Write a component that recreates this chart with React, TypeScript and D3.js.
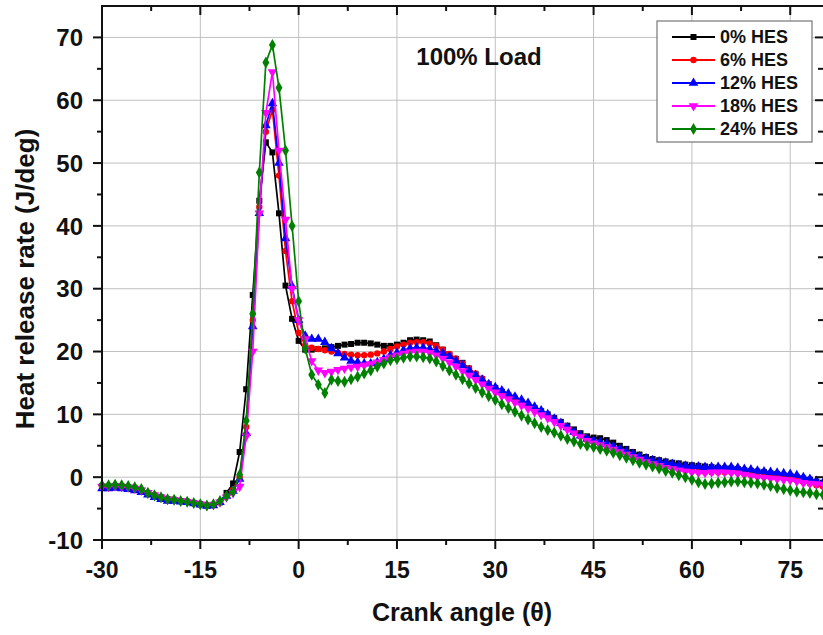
import React from "react";
import * as d3 from "d3";

// Crank angle sampling (degrees), one sample per degree from -30 to 80
const ANGLE_START = -30;
const ANGLE_STEP = 1;

const seriesNames = ["0% HES", "6% HES", "12% HES", "18% HES", "24% HES"];
const seriesColors = ["#000000", "#ff0000", "#0000ff", "#ff00ff", "#008000"];

const hes0 = [
  -1.5, -1.5, -1.4, -1.5, -1.6, -1.8, -2.1, -2.5, -2.9, -3.2, -3.5, -3.6, -3.8, -3.9, -4.1, -4.3, -4.5, -4.4, -4.0, -2.5, -1.0,
  4, 14, 29, 44, 53.3, 51.7, 42, 30.5, 25.2,
  21.7, 20.3, 20.3, 20.4, 20.5, 20.7, 20.9, 21.1, 21.2, 21.4, 21.4, 21.3, 21.1, 20.9, 20.9, 21.1, 21.4, 21.8, 21.9, 21.8,
  21.6, 21.0, 20.3, 19.5, 18.8, 18.2, 17.3, 16.4, 15.6, 14.8,
  14.2, 13.6, 13.0, 12.5, 12.0, 11.5, 11.0, 10.5, 10.0, 9.4,
  8.8, 8.2, 7.6, 7.0, 6.5, 6.3, 6.2, 5.9, 5.5, 5.0,
  4.5, 4.0, 3.6, 3.2, 2.9, 2.7, 2.5, 2.3, 2.2, 2.0,
  1.9, 1.8, 1.7, 1.6, 1.5, 1.4, 1.4, 1.3, 1.1, 1.0,
  0.9, 0.8, 0.6, 0.5, 0.3, 0.2, 0.0, -0.2, -0.4, -0.7,
  -0.9,
];

const hes6 = [
  -1.5, -1.5, -1.4, -1.5, -1.6, -1.8, -2.1, -2.5, -2.9, -3.2, -3.5, -3.6, -3.8, -3.9, -4.1, -4.3, -4.5, -4.4, -4.0, -3.0, -2.0,
  0, 8, 25, 43, 55, 58.5, 48, 36, 28,
  23, 21, 20.6, 20.4, 20.2, 20.0, 19.8, 19.6, 19.5, 19.4, 19.4, 19.5, 19.7, 20.0, 20.4, 20.8, 21.1, 21.4, 21.5, 21.5,
  21.3, 20.9, 20.3, 19.6, 18.9, 18.1, 17.3, 16.5, 15.7, 14.9,
  14.2, 13.5, 12.9, 12.3, 11.8, 11.3, 10.8, 10.3, 9.8, 9.2,
  8.5, 7.8, 7.1, 6.5, 5.9, 5.5, 5.2, 4.9, 4.6, 4.2,
  3.8, 3.4, 3.0, 2.6, 2.3, 2.0, 1.7, 1.5, 1.3, 1.1,
  1.0, 0.9, 0.8, 0.8, 0.8, 0.8, 0.8, 0.7, 0.5, 0.3,
  0.2, 0.1, 0.0, -0.1, -0.2, -0.3, -0.5, -0.8, -1.0, -1.3,
  -1.5,
];

const hes12 = [
  -1.8, -1.8, -1.7, -1.8, -1.9, -2.1, -2.4, -2.8, -3.2, -3.5, -3.8, -3.8, -3.9, -4.0, -4.2, -4.4, -4.6, -4.5, -4.0, -3.0, -2.2,
  -0.3, 7, 24, 42, 56, 59.5, 50, 38, 30.4,
  25, 22.5, 22.0, 22.0, 21.5, 20.5, 19.7, 19.0, 18.5, 18.3, 18.1, 18.1, 18.3, 18.8, 19.4, 19.8, 20.2, 20.5, 20.6, 20.6,
  20.4, 20.1, 19.7, 19.2, 18.5, 17.8, 17.0, 16.2, 15.5, 14.8,
  14.3, 13.8, 13.3, 12.8, 12.3, 11.8, 11.2, 10.6, 10.0, 9.3,
  8.6, 7.9, 7.2, 6.6, 6.1, 5.8, 5.6, 5.3, 4.9, 4.5,
  4.1, 3.7, 3.3, 3.0, 2.7, 2.5, 2.3, 2.1, 1.9, 1.8,
  1.7, 1.7, 1.6, 1.6, 1.6, 1.6, 1.6, 1.5, 1.3, 1.2,
  1.0, 0.9, 0.8, 0.7, 0.6, 0.5, 0.3, 0.0, -0.3, -0.6,
  -0.9,
];

const hes18 = [
  -1.5, -1.5, -1.4, -1.5, -1.6, -1.8, -2.1, -2.5, -2.9, -3.2, -3.5, -3.6, -3.8, -3.9, -4.1, -4.3, -4.5, -4.4, -4.0, -3.2, -2.5,
  -1.5, 6.5, 20, 42, 58, 64.5, 52, 41, 30,
  25, 22, 18.5, 17.0, 16.6, 16.8, 17.1, 17.3, 17.5, 17.6, 17.8, 18.0, 18.3, 18.7, 19.1, 19.4, 19.7, 19.9, 20.0, 20.0,
  19.8, 19.4, 18.9, 18.3, 17.6, 16.9, 16.2, 15.5, 14.8, 14.1,
  13.5, 12.9, 12.4, 11.9, 11.4, 10.9, 10.4, 9.9, 9.4, 8.8,
  8.2, 7.6, 7.0, 6.4, 5.8, 5.4, 5.1, 4.8, 4.4, 4.0,
  3.6, 3.2, 2.8, 2.4, 2.1, 1.8, 1.5, 1.3, 1.1, 0.9,
  0.8, 0.7, 0.7, 0.8, 0.8, 0.8, 0.7, 0.6, 0.4, 0.2,
  0.0, -0.1, -0.2, -0.3, -0.4, -0.5, -0.7, -0.9, -1.0, -1.1,
  -1.2,
];

const hes24 = [
  -1.3, -1.3, -1.2, -1.3, -1.4, -1.6, -1.9, -2.5, -2.9, -3.2, -3.5, -3.6, -3.8, -3.9, -4.1, -4.3, -4.5, -4.3, -3.8, -3.0, -2.3,
  0.4, 9, 26, 48.5, 66, 68.8, 62, 52, 40,
  28, 20.5, 16.3, 14.7, 13.4, 15.5, 15.3, 15.2, 15.6, 16.0, 16.5, 17.0, 17.6, 18.1, 18.6, 18.8, 19.0, 19.2, 19.2, 19.1,
  18.9, 18.4, 17.7, 17.0, 16.3, 15.6, 14.9, 14.2, 13.5, 12.9,
  12.3, 11.6, 11.0, 10.4, 9.8, 9.2, 8.6, 8.0, 7.5, 7.1,
  6.6, 6.1, 5.7, 5.3, 5.0, 4.8, 4.5, 4.2, 3.9, 3.5,
  3.1, 2.7, 2.3, 2.0, 1.7, 1.4, 1.0, 0.7, 0.3, 0.0,
  -0.4, -0.8, -1.1, -1.0, -0.9, -0.8, -0.7, -0.7, -0.8, -0.9,
  -1.0, -1.2, -1.4, -1.7, -1.9, -2.1, -2.3, -2.4, -2.5, -2.7,
  -2.8,
];

const seriesValues = [hes0, hes6, hes12, hes18, hes24];

const xTickValues = [-30, -15, 0, 15, 30, 45, 60, 75];
const xMinorTickValues = [-22.5, -7.5, 7.5, 22.5, 37.5, 52.5, 67.5];
const yTickValues = [-10, 0, 10, 20, 30, 40, 50, 60, 70];
const yMinorTickValues = [-5, 5, 15, 25, 35, 45, 55, 65];

const chartTitle = "100% Load";
const xTitle = "Crank angle (\u03b8)";
const yTitle = "Heat release rate (J/deg)";

const FONT = "Arial, 'Liberation Sans', Helvetica, sans-serif";

const symbolTypes = [
  { type: d3.symbolSquare, size: 36, rot: 0 },
  { type: d3.symbolCircle, size: 32, rot: 0 },
  { type: d3.symbolTriangle, size: 40, rot: 0 },
  { type: d3.symbolTriangle, size: 40, rot: 180 },
  { type: d3.symbolDiamond, size: 42, rot: 0 },
];

export default function App() {
  const W = 823;
  const H = 635;
  const left = 102;
  const right = 823;
  const top = 6;
  const bottom = 540;

  const x = d3.scaleLinear().domain([-30, 80]).range([left, right]);
  const y = d3.scaleLinear().domain([-10, 75]).range([bottom, top]);

  const line = d3
    .line<number>()
    .x((_, i) => x(ANGLE_START + i * ANGLE_STEP))
    .y((d) => y(d));

  const symbolPaths = symbolTypes.map((s) => d3.symbol().type(s.type).size(s.size)()!);

  return (
    <svg
      width={W}
      height={H}
      viewBox={`0 0 ${W} ${H}`}
      style={{ position: "absolute", left: 0, top: 0, display: "block", background: "#fff" }}
      fontFamily={FONT}
    >
      <rect x={0} y={0} width={W} height={H} fill="#fff" />
      {/* grid */}
      <g stroke="#c0c0c0" strokeWidth={1}>
        {xTickValues.slice(1).map((t) => (
          <line key={"gx" + t} x1={x(t)} x2={x(t)} y1={top} y2={bottom} />
        ))}
        {yTickValues.slice(1).map((t) => (
          <line key={"gy" + t} x1={left} x2={right} y1={y(t)} y2={y(t)} />
        ))}
      </g>

      {/* series */}
      {seriesValues.map((vals, si) => (
        <g key={"s" + si}>
          <path d={line(vals)!} fill="none" stroke={seriesColors[si]} strokeWidth={1.7} />
          {vals.map((v, i) => (
            <path
              key={i}
              d={symbolPaths[si]}
              fill={seriesColors[si]}
              transform={`translate(${x(ANGLE_START + i * ANGLE_STEP)},${y(v)}) rotate(${symbolTypes[si].rot})`}
            />
          ))}
        </g>
      ))}

      {/* axes frame */}
      <g stroke="#111" strokeWidth={2} fill="none">
        <line x1={left} x2={left} y1={top} y2={bottom + 1} />
        <line x1={left - 1} x2={right} y1={bottom} y2={bottom} />
        <line x1={left - 1} x2={right} y1={top} y2={top} />
      </g>

      {/* ticks */}
      <g stroke="#111" strokeWidth={2}>
        {xTickValues.map((t) => (
          <g key={"xt" + t}>
            <line x1={x(t)} x2={x(t)} y1={bottom} y2={bottom + 9} />
            <line x1={x(t)} x2={x(t)} y1={top} y2={top + 9} />
          </g>
        ))}
        {xMinorTickValues.map((t) => (
          <g key={"xm" + t}>
            <line x1={x(t)} x2={x(t)} y1={bottom} y2={bottom + 5} />
            <line x1={x(t)} x2={x(t)} y1={top} y2={top + 5} />
          </g>
        ))}
        {yTickValues.map((t) => (
          <g key={"yt" + t}>
            <line x1={left - 9} x2={left} y1={y(t)} y2={y(t)} />
            <line x1={right - 8} x2={right} y1={y(t)} y2={y(t)} />
          </g>
        ))}
        {yMinorTickValues.map((t) => (
          <g key={"ym" + t}>
            <line x1={left - 5} x2={left} y1={y(t)} y2={y(t)} />
            <line x1={right - 5} x2={right} y1={y(t)} y2={y(t)} />
          </g>
        ))}
      </g>

      {/* tick labels */}
      <g fontWeight="bold" fill="#111">
        {xTickValues.map((t) => (
          <text key={"xl" + t} x={x(t)} y={578} textAnchor="middle" fontSize={23}>
            {t}
          </text>
        ))}
        {yTickValues.map((t) => (
          <text key={"yl" + t} x={83} y={y(t)} dy="0.36em" textAnchor="end" fontSize={24}>
            {t}
          </text>
        ))}
      </g>

      {/* titles */}
      <text x={462} y={621} textAnchor="middle" fontSize={25} fontWeight="bold" fill="#111">
        {xTitle}
      </text>
      <text
        transform={`translate(34, 279) rotate(-90)`}
        textAnchor="middle"
        fontSize={26}
        fontWeight="bold"
        fill="#111"
      >
        {yTitle}
      </text>
      <text x={479} y={65} textAnchor="middle" fontSize={24} fontWeight="bold" fill="#111">
        {chartTitle}
      </text>

      {/* legend */}
      <g>
        <rect x={657} y={21} width={155} height={121} fill="#fff" stroke="#777" strokeWidth={1.2} />
        {seriesNames.map((name, i) => {
          const ly = 37 + i * 23;
          return (
            <g key={"lg" + i}>
              <line x1={672} x2={715} y1={ly} y2={ly} stroke={seriesColors[i]} strokeWidth={1.8} />
              <path d={symbolPaths[i]} fill={seriesColors[i]} transform={`translate(693.5,${ly}) rotate(${symbolTypes[i].rot})`} />
              <text x={720} y={ly} dy="0.36em" fontSize={18} fontWeight="bold" fill="#111">
                {name}
              </text>
            </g>
          );
        })}
      </g>
    </svg>
  );
}
